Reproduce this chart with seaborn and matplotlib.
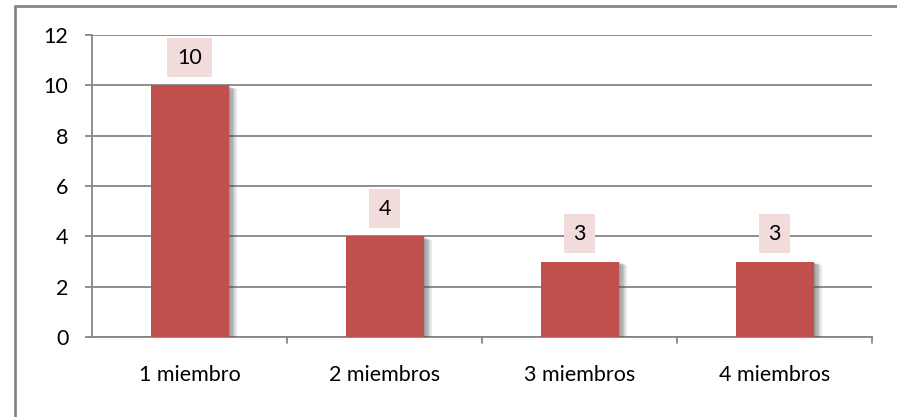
import matplotlib
matplotlib.use("Agg")
import matplotlib.pyplot as plt
import matplotlib.patheffects as pe
from matplotlib.lines import Line2D
import seaborn as sns
import pandas as pd

categories = ["1 miembro", "2 miembros", "3 miembros", "4 miembros"]
values = [10, 4, 3, 3]
y_ticks = [0, 2, 4, 6, 8, 10, 12]

sns.set_theme(style="white")
plt.rcParams["font.family"] = ["Lato", "DejaVu Sans"]

df = pd.DataFrame({"grupo": categories, "n": values})

fig = plt.figure(figsize=(8.97, 4.17), dpi=100)
ax = fig.add_axes([92 / 897, 80 / 417, 780 / 897, 302 / 417])

sns.barplot(data=df, x="grupo", y="n", color="#C0504D", saturation=1,
            width=0.4, ax=ax, zorder=3)

# soft drop shadow to the right of each bar
shadow = [pe.SimplePatchShadow(offset=(d, -d * 0.4), shadow_rgbFace="#505050",
                               alpha=0.13) for d in (6, 5, 4, 3, 2, 1)]
for bar in ax.patches:
    bar.set_edgecolor("none")
    bar.set_path_effects(shadow + [pe.Normal()])

ax.set_ylim(0, 12)
ax.set_xlim(-0.5, len(categories) - 0.5)
ax.set_yticks(y_ticks)
ax.set_yticklabels([str(t) for t in y_ticks], fontsize=15.5, color="black")
ax.yaxis.grid(True, color="#868686", linewidth=1.3, zorder=0)
ax.set_axisbelow(True)

# category boundary ticks on x axis
ax.set_xticks(range(len(categories)))
ax.set_xticklabels(categories, fontsize=15.5, color="black")
ax.tick_params(axis="x", length=0, pad=20)
for b in [0.5, 1.5, 2.5, 3.5]:
    ax.plot([b, b], [0, -0.25], color="#868686", lw=1.3, clip_on=False, zorder=4)
ax.tick_params(axis="y", length=5, color="#868686", width=1.3, left=True,
               direction="out", pad=12)

for side in ["top", "right"]:
    ax.spines[side].set_visible(False)
for side in ["left", "bottom"]:
    ax.spines[side].set_color("#868686")
    ax.spines[side].set_linewidth(1.3)

ax.set_xlabel("")
ax.set_ylabel("")

for i, v in enumerate(values):
    ax.annotate(str(v), xy=(i, v), xytext=(0, 20), textcoords="offset points",
                ha="center", va="center", fontsize=15.5, color="black",
                bbox=dict(boxstyle="square,pad=0.45", fc="#F2DCDB", ec="none"),
                zorder=5)

# outer chart frame (left and top edges)
fig.add_artist(Line2D([15 / 897, 15 / 897], [0, 1 - 6 / 417],
                      color="#868686", lw=2, transform=fig.transFigure))
fig.add_artist(Line2D([15 / 897, 1], [1 - 6 / 417, 1 - 6 / 417],
                      color="#868686", lw=2, transform=fig.transFigure))

fig.savefig("out.png", dpi=100, facecolor="white")
